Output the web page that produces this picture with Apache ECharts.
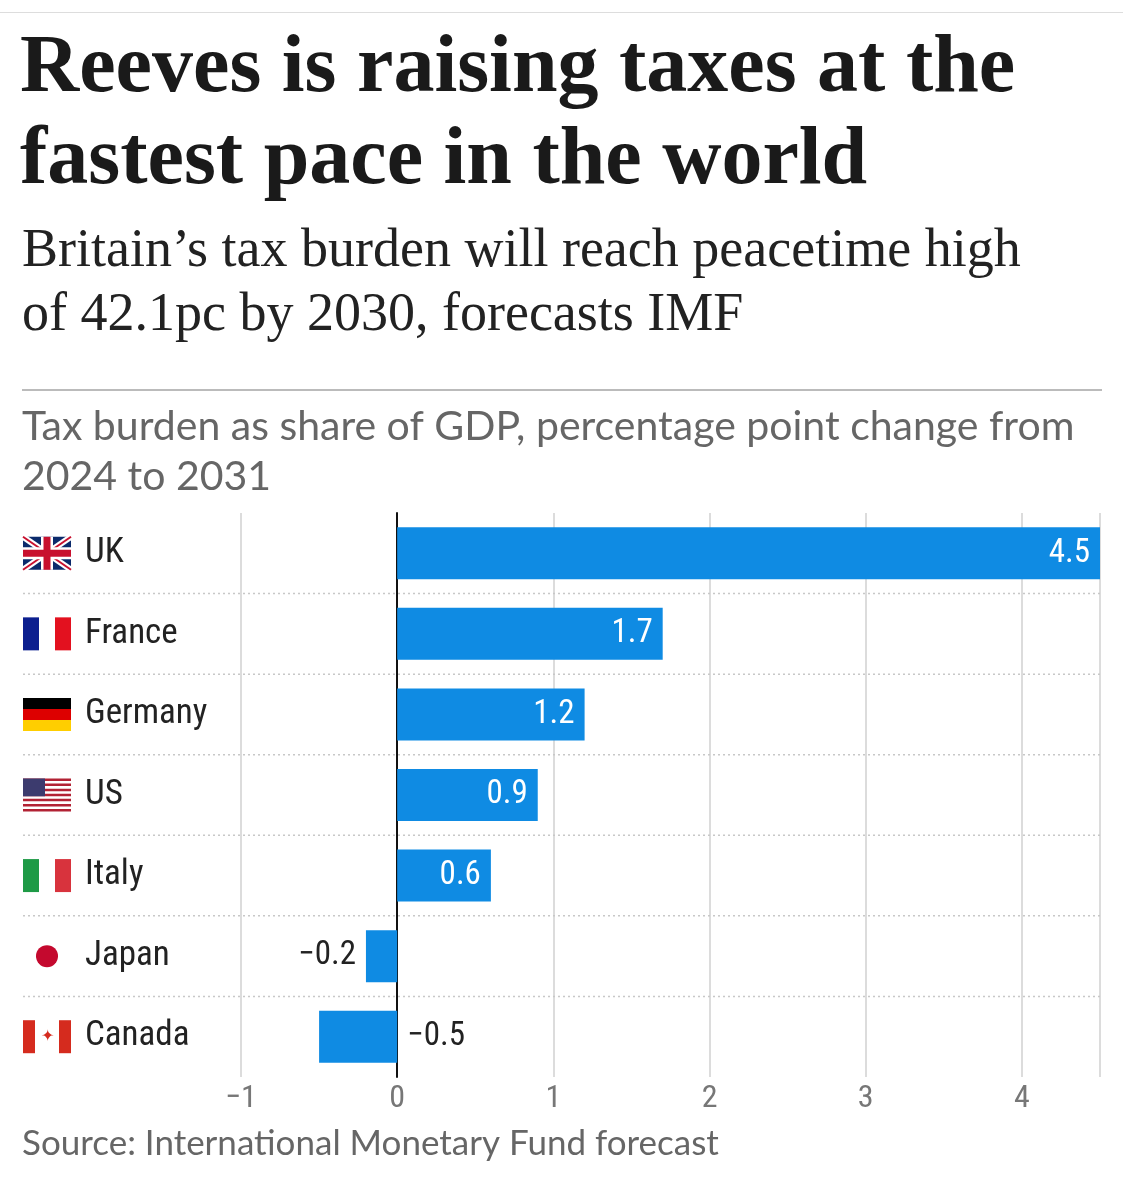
<!DOCTYPE html>
<html><head><meta charset="utf-8">
<script src="https://cdn.jsdelivr.net/npm/echarts@6/dist/echarts.min.js"></script>
<style>body{margin:0;background:#fff}#c{width:1123px;height:1200px}</style></head>
<body><div id="c"></div>
<script>
const categories = ['UK','France','Germany','US','Italy','Japan','Canada'];
const values = [4.5,1.7,1.2,0.9,0.6,-0.2,-0.5];
const xTicks = [-1,0,1,2,3,4];
const narrow = '"Liberation Sans Narrow","Roboto Condensed",Roboto,sans-serif';
const chart = echarts.init(document.getElementById('c'));
const data = values.map(v => ({
  value: v,
  label: {position: v >= 0 ? 'insideRight' : (v > -0.3 ? 'left' : 'right'),
          color: v >= 0 ? '#fff' : '#222'}
}));
chart.setOption({
  animation:false,
  grid:{left:241,right:23,top:513,bottom:123},
  xAxis:{type:'value',min:-1,max:4.5,interval:1,
    axisLabel:{color:'#777',fontSize:32,fontFamily:narrow,margin:6,
      formatter:v=>xTicks.includes(v)?String(v).replace('-','\u2212'):''},
    axisLine:{show:false},axisTick:{show:false},
    splitLine:{lineStyle:{color:'#dcdcdc',width:2}}},
  yAxis:{type:'category',inverse:true,data:categories,
    axisLine:{onZero:true,lineStyle:{color:'#111',width:2}},
    axisTick:{show:false},
    axisLabel:{align:'left',margin:156,color:'#222',fontSize:35,fontFamily:narrow},
    splitLine:{show:false}},
  series:[{type:'bar',data:data,barWidth:52,itemStyle:{color:'#0f8be3'},
    label:{show:true,fontSize:33,fontFamily:narrow,distance:10,
      formatter:p=>String(p.value).replace('-','\u2212')}}]
});
const g = [];
g.push({type:'rect',shape:{x:0,y:12,width:1123,height:1},style:{fill:'#ddd'}});
g.push({type:'text',left:20,top:24,style:{text:'Reeves is raising taxes at the\nfastest pace in the world',font:'bold 82px "Liberation Serif",serif',lineHeight:92,fill:'#1a1a1a'}});
g.push({type:'text',left:22,top:220,style:{text:'Britain\u2019s tax burden will reach peacetime high\nof 42.1pc by 2030, forecasts IMF',font:'54px "Liberation Serif",serif',lineHeight:64,fill:'#222'}});
g.push({type:'rect',shape:{x:22,y:389,width:1080,height:2},style:{fill:'#bbb'}});
g.push({type:'text',left:22,top:402,style:{text:'Tax burden as share of GDP, percentage point change from\n2024 to 2031',font:'41px Lato,"Open Sans",sans-serif',lineHeight:50,fill:'#666'}});
g.push({type:'text',left:22,top:1126,style:{text:'Source: International Monetary Fund forecast',font:'35px Lato,"Open Sans",sans-serif',fill:'#666'}});
const ys = categories.map((c,i)=>chart.convertToPixel({yAxisIndex:0},i));
for(let i=0;i<ys.length-1;i++){
  const y=(ys[i]+ys[i+1])/2;
  g.push({type:'line',shape:{x1:23,y1:y,x2:1100,y2:y},style:{stroke:'#c8c8c8',lineWidth:1.5,lineDash:[2,3]}});
}
const fx=23,fw=48,fh=33;
ys.forEach((y,i)=>{
  const t=y-fh/2; const c=categories[i];
  const R=(x,yy,w,h,f)=>g.push({type:'rect',shape:{x:x,y:yy,width:w,height:h},style:{fill:f}});
  if(c==='UK'){
    R(fx,t,fw,fh,'#0b2a6b');
    g.push({type:'line',shape:{x1:fx,y1:t,x2:fx+fw,y2:t+fh},style:{stroke:'#fff',lineWidth:6}});
    g.push({type:'line',shape:{x1:fx+fw,y1:t,x2:fx,y2:t+fh},style:{stroke:'#fff',lineWidth:6}});
    g.push({type:'line',shape:{x1:fx,y1:t,x2:fx+fw,y2:t+fh},style:{stroke:'#c8102e',lineWidth:2}});
    g.push({type:'line',shape:{x1:fx+fw,y1:t,x2:fx,y2:t+fh},style:{stroke:'#c8102e',lineWidth:2}});
    R(fx+fw/2-6,t,12,fh,'#fff');R(fx,y-6,fw,12,'#fff');
    R(fx+fw/2-3.5,t,7,fh,'#c8102e');R(fx,y-3.5,fw,7,'#c8102e');
  } else if(c==='France'){
    R(fx,t,16,fh,'#0c1f8f');R(fx+32,t,16,fh,'#e3111f');
  } else if(c==='Germany'){
    R(fx,t,fw,11,'#000');R(fx,t+11,fw,11,'#dd0000');R(fx,t+22,fw,11,'#ffce00');
  } else if(c==='US'){
    for(let k=0;k<7;k++) R(fx,t+k*fh/6.5,fw,fh/13,'#b22234');
    R(fx,t,22,fh*7/13,'#3c3b6e');
  } else if(c==='Italy'){
    R(fx,t,16,fh,'#1e9a46');R(fx+32,t,16,fh,'#d8333d');
  } else if(c==='Japan'){
    g.push({type:'circle',shape:{cx:fx+fw/2,cy:y,r:11},style:{fill:'#c4092e'}});
  } else if(c==='Canada'){
    R(fx,t,12,fh,'#d52b1e');R(fx+36,t,12,fh,'#d52b1e');
    g.push({type:'text',x:fx+24,y:y,style:{text:'\u2726',font:'16px sans-serif',fill:'#d52b1e',align:'center',verticalAlign:'middle'}});
  }
});
chart.setOption({graphic:g});
</script></body></html>
